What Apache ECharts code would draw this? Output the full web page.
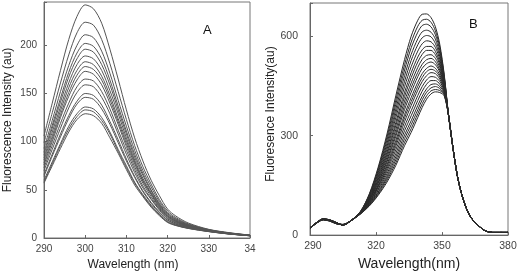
<!DOCTYPE html>
<html><head><meta charset="utf-8">
<script src="https://cdn.jsdelivr.net/npm/echarts@6/dist/echarts.min.js"></script>
<style>html,body{margin:0;padding:0;background:#fff}#c{width:520px;height:276px}</style>
</head><body><div id="c"></div>
<script>
// ---------- Panel A ----------
const wavelengthA = [290,292,294,296,298,300,302,304,306,308,310,312,314,316,318,320,322,325,330,335,340];
const a01 = [106,140,174,206,230,242,238,223,196,165,133,104,80,60,44,30,22.8,15.6,9,5.5,3];
const a02 = [99,130,161,190,213,224,221,206,181,152,123,96,74,56,40,28,21.2,14.7,8.7,5.3,2.9];
const a03 = [93,122,152,179,200,211,208,194,171,143,116,91,70,53,38,26.4,20.1,14.1,8.4,5.1,2.8];
const a04 = [89,117,145,172,192,202,199,186,164,137,111,87,67,50,36,25.3,19.3,13.6,8.2,5,2.8];
const a05 = [86,114,141,167,186,196,193,180,159,133,108,84,65,49,35,24.5,18.7,13.3,8.1,4.9,2.7];
const a06 = [83,110,136,161,180,189,186,174,153,129,104,81,62,47,34,23.6,18.1,12.9,7.9,4.8,2.7];
const a07 = [81,106,132,156,174,183,180,168,148,124,101,79,60,46,33,22.9,17.6,12.6,7.8,4.7,2.6];
const a08 = [78,103,128,151,169,178,175,164,144,121,98,77,59,45,32,22.3,17.2,12.4,7.7,4.7,2.6];
const a09 = [76,100,125,147,164,173,170,159,140,118,95,74,57,43,31,21.6,16.7,12.1,7.6,4.6,2.6];
const a10 = [73,96,119,140,157,165,163,152,134,112,91,71,54,41,30,20.6,16,11.7,7.4,4.5,2.5];
const a11 = [70,92,114,135,151,159,157,146,129,108,87,68,52,40,29,19.9,15.5,11.4,7.3,4.4,2.5];
const a12 = [66,87,108,127,142,150,148,138,121,102,82,64,49,37,27,18.8,14.7,11,7.1,4.3,2.4];
const a13 = [64,85,105,124,139,146,144,134,118,99,80,63,48,36,26,18.2,14.3,10.8,7,4.3,2.4];
const a14 = [60,79,98,116,129,136,134,125,110,92,75,58,45,34,24.5,17,13.5,10.3,6.8,4.2,2.3];
const a15 = [58,77,96,113,126,133,131,122,108,90,73,57,44,33,24,16.6,13.2,10.1,6.7,4.1,2.3];
const a16 = [57,75,93,110,123,129,127,119,104,88,71,55,43,32,23.2,16.1,12.9,9.9,6.6,4.1,2.3];
const curvesA = [a01,a02,a03,a04,a05,a06,a07,a08,a09,a10,a11,a12,a13,a14,a15,a16];
const ticksAX = [290,300,310,320,330,340];
const ticksAY = [0,50,100,150,200];

// ---------- Panel B ----------
const wavelengthBHead = [290,293,296,299,302,305,309,313,317,321,325,329,333,336,339,341,343,345,347,349,351,353];
const wavelengthBTail = [355,357,359,361,363,365,367,369,371,373,376,380];
const tailB = [262,178,122,82,55,38,26,15,10,8,8,8];
const b01 = [20,36,46,42,34,32,46,72,125,205,305,420,530,600,648,666,667,656,628,575,485,360];
const b02 = [20,36,46,42,34,32,46,72,123,200,296,407,514,582,630,648,651,642,616,566,481,360];
const b03 = [20,36,46,43,34,32,46,71,121,195,287,394,498,565,612,632,636,628,604,557,477,360];
const b04 = [20,36,47,43,35,32,46,70,118,189,277,380,481,545,592,613,618,612,591,547,473,360];
const b05 = [20,36,47,43,35,32,46,70,116,184,268,367,464,527,574,595,602,598,578,538,469,360];
const b06 = [21,37,47,44,35,31,46,69,113,178,259,354,448,508,555,577,586,583,566,529,465,360];
const b07 = [21,37,47,44,36,31,46,69,111,173,250,340,431,490,537,559,569,569,554,520,460,360];
const b08 = [21,37,47,44,36,31,46,69,109,168,243,330,418,475,522,545,557,557,544,513,457,360];
const b09 = [21,37,47,44,36,31,46,68,107,164,235,318,404,459,506,530,542,544,533,505,454,360];
const b10 = [21,37,48,44,36,31,45,68,105,159,227,307,391,445,491,515,529,533,523,497,450,360];
const b11 = [21,37,48,45,36,31,45,67,104,156,221,298,379,431,478,503,517,522,514,491,447,360];
const b12 = [21,37,48,45,37,31,45,67,101,151,213,286,364,415,461,487,503,510,503,483,444,360];
const b13 = [21,37,48,45,37,31,45,67,100,147,207,277,354,403,449,475,493,500,495,477,441,360];
const b14 = [22,38,48,45,37,31,45,66,98,144,200,268,342,391,437,463,481,490,487,470,438,360];
const b15 = [22,38,48,45,37,30,45,66,96,139,193,257,328,375,421,448,468,478,476,463,435,360];
const b16 = [22,38,49,45,37,30,45,65,94,135,185,246,315,360,406,434,455,466,466,455,431,360];
const b17 = [22,38,49,46,38,30,45,65,93,130,178,236,302,345,391,419,441,454,456,448,428,360];
const b18 = [22,38,49,46,38,30,45,65,91,127,172,227,291,333,378,408,431,444,448,442,425,360];
const b19 = [22,38,49,46,38,30,45,64,89,123,166,218,280,321,366,396,420,435,439,436,423,360];
const b20 = [22,38,49,46,38,30,45,64,88,120,160,210,270,310,355,385,410,426,432,430,420,360];
const curvesB = [b01,b02,b03,b04,b05,b06,b07,b08,b09,b10,b11,b12,b13,b14,b15,b16,b17,b18,b19,b20];
const ticksBX = [290,320,350,380];
const ticksBY = [0,300,600];

const FONT = "'Liberation Sans', Arial, sans-serif";
const chart = echarts.init(document.getElementById('c'), null, {renderer: 'canvas'});

const wavelengthB = wavelengthBHead.concat(wavelengthBTail);
const series = [];
curvesA.forEach(c => series.push({
  type: 'line', xAxisIndex: 0, yAxisIndex: 0, showSymbol: false, smooth: 0.3,
  lineStyle: {color: '#555', width: 1}, silent: true,
  data: wavelengthA.map((w, k) => [w, c[k]])
}));
curvesB.forEach(c => {
  const vals = c.concat(tailB);
  series.push({
    type: 'line', xAxisIndex: 1, yAxisIndex: 1, showSymbol: false, smooth: 0.3,
    lineStyle: {color: '#2a2a2a', width: 1}, silent: true,
    data: wavelengthB.map((w, k) => [w, vals[k]])
  });
});

const axisCommon = {
  axisLine: {show: true, onZero: false, lineStyle: {color: '#666', width: 1}},
  axisTick: {show: true, inside: true, length: 3, lineStyle: {color: '#666'}},
  splitLine: {show: false}
};

chart.setOption({
  animation: false,
  backgroundColor: '#fff',
  grid: [
    {left: 44, top: 2, width: 206, height: 236, show: true, borderColor: '#777', borderWidth: 1},
    {left: 310, top: 3, width: 198, height: 236, show: true, borderColor: '#777', borderWidth: 1}
  ],
  xAxis: [
    Object.assign({}, axisCommon, {
      type: 'value', gridIndex: 0, min: ticksAX[0], max: ticksAX[ticksAX.length - 1], interval: 10,
      axisLabel: {fontSize: 10, color: '#444', fontFamily: FONT, margin: 6,
        formatter: v => v === 340 ? '34' : String(v)},
      name: 'Wavelength (nm)', nameLocation: 'middle', nameGap: 20,
      nameTextStyle: {fontSize: 12, color: '#222', fontFamily: FONT, padding: [0, 28, 0, 0]}
    }),
    Object.assign({}, axisCommon, {
      type: 'value', gridIndex: 1, min: ticksBX[0], max: ticksBX[ticksBX.length - 1], interval: 30,
      axisLabel: {fontSize: 10.5, color: '#444', fontFamily: FONT, margin: 6,
        formatter: v => v === 290 ? '  290' : String(v)},
      name: 'Wavelength(nm)', nameLocation: 'middle', nameGap: 18,
      nameTextStyle: {fontSize: 14, color: '#222', fontFamily: FONT}
    })
  ],
  yAxis: [
    Object.assign({}, axisCommon, {
      type: 'value', gridIndex: 0, min: ticksAY[0], max: 245, interval: 50,
      axisLabel: {fontSize: 10, color: '#444', fontFamily: FONT, margin: 7,
        formatter: v => v > ticksAY[ticksAY.length - 1] ? '' : String(v)},
      name: 'Fluorescence Intensity (au)', nameLocation: 'middle', nameGap: 30,
      nameTextStyle: {fontSize: 12, color: '#222', fontFamily: FONT}
    }),
    Object.assign({}, axisCommon, {
      type: 'value', gridIndex: 1, min: ticksBY[0], max: 700, interval: 300,
      axisLabel: {fontSize: 10.5, color: '#444', fontFamily: FONT, margin: 12,
        formatter: v => v > ticksBY[ticksBY.length - 1] ? '' : String(v)},
      name: 'Fluoresence Intensity(au)', nameLocation: 'middle', nameGap: 32,
      nameTextStyle: {fontSize: 12, color: '#222', fontFamily: FONT, padding: [0, 0, 0, 10]}
    })
  ],
  graphic: [
    {type: 'text', x: 203, y: 24, style: {text: 'A', fontSize: 13, fill: '#111', fontFamily: FONT}},
    {type: 'text', x: 469, y: 18, style: {text: 'B', fontSize: 13, fill: '#111', fontFamily: FONT}}
  ],
  series: series
});
</script>
</body></html>
